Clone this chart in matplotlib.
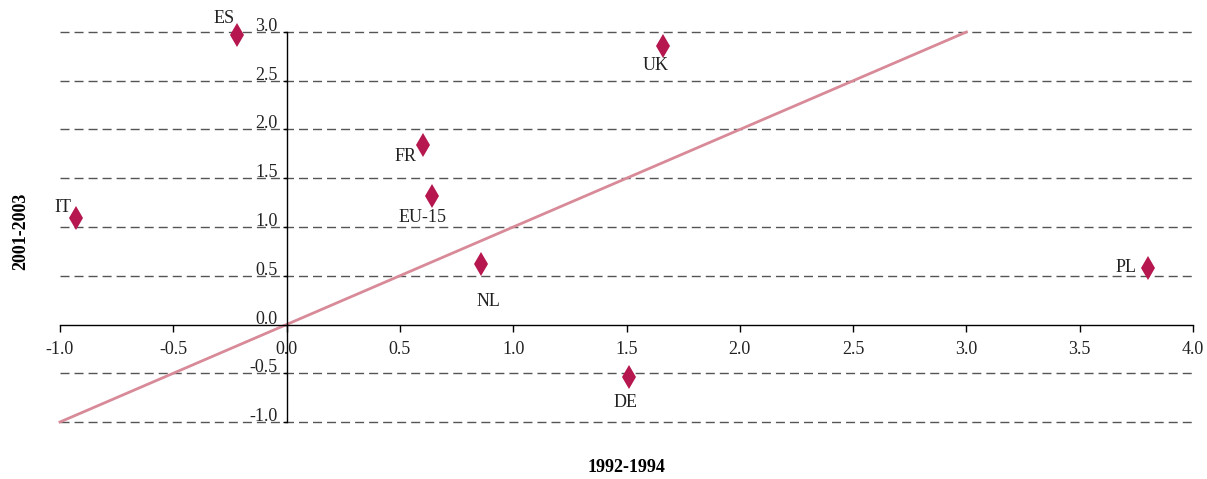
import matplotlib
matplotlib.use("Agg")
import matplotlib.pyplot as plt

# ---- data ----
countries = ['ES', 'UK', 'FR', 'EU-15', 'IT', 'NL', 'PL', 'DE']
x_1992_1994 = [-0.22, 1.66, 0.60, 0.64, -0.93, 0.86, 3.80, 1.51]
y_2001_2003 = [2.97, 2.86, 1.84, 1.32, 1.09, 0.62, 0.58, -0.54]
# label offsets (pixels) relative to marker
label_dx = [-13, -7, -17, -9, -13, 7, -22, -3]
label_dy = [16, -20, -11, -22, 11, -37, 0, -25]

diag_x = [-1.0, 3.0]
diag_y = [-1.0, 3.0]

x_ticks = [-1.0, -0.5, 0.0, 0.5, 1.0, 1.5, 2.0, 2.5, 3.0, 3.5, 4.0]
y_ticks = [-1.0, -0.5, 0.0, 0.5, 1.0, 1.5, 2.0, 2.5, 3.0]
x_label = '1992-1994'
y_label = '2001-2003'

FONT = 'Liberation Serif'
FS = 13
W, H = 1207, 479

fig = plt.figure(figsize=(W / 100, H / 100), dpi=100)
ax = fig.add_axes([60 / W, 1 - 422 / H, (1193 - 60) / W, (422 - 32) / H])
ax.set_xlim(-1, 4)
ax.set_ylim(-1, 3)

# gridlines (dashed) except at 0
for yv in y_ticks:
    if yv != 0:
        ax.axhline(yv, color='#555555', lw=1.0, linestyle=(0, (6.5, 3.6)), zorder=1,
                   clip_on=False)

# spines at zero
for s in ['top', 'right']:
    ax.spines[s].set_visible(False)
ax.spines['left'].set_position(('data', 0))
ax.spines['bottom'].set_position(('data', 0))
ax.spines['left'].set_linewidth(1.0)
ax.spines['bottom'].set_linewidth(1.0)

ax.set_xticks(x_ticks)
ax.set_xticklabels([f'{v:.1f}' for v in x_ticks], fontfamily=FONT, fontsize=FS, color='#222222')
ax.tick_params(axis='x', direction='out', length=5, width=1, pad=7)
ax.set_yticks(y_ticks)
ax.set_yticklabels([])
ax.tick_params(axis='y', direction='out', length=3, width=1)

# y tick labels sitting just above the gridline, left of the y axis
for yv in y_ticks:
    ax.annotate(f'{yv:.1f}', xy=(0, yv), xytext=(-9, 1), textcoords='offset pixels',
                ha='right', va='baseline', fontfamily=FONT, fontsize=FS, color='#222222',
                annotation_clip=False)

# diagonal line
ax.plot(diag_x, diag_y, color='#D88A98', lw=2.0, zorder=2, clip_on=False)

# markers
ax.plot(x_1992_1994, y_2001_2003, linestyle='none', marker='d', markersize=12,
        color='#B5174E', markeredgewidth=0, zorder=3, clip_on=False)

for name, xv, yv, dx, dy in zip(countries, x_1992_1994, y_2001_2003, label_dx, label_dy):
    ax.annotate(name, xy=(xv, yv), xytext=(dx, dy), textcoords='offset pixels',
                ha='center', va='center', fontfamily=FONT, fontsize=FS, color='#222222',
                annotation_clip=False)

ax.set_xlabel(x_label, fontfamily=FONT, fontsize=FS, fontweight='bold')
ax.xaxis.set_label_coords(0.5, -0.095)
ax.set_ylabel(y_label, fontfamily=FONT, fontsize=FS, fontweight='bold')
ax.yaxis.set_label_coords(-0.027, 0.49)

fig.savefig('out.png', dpi=100)
